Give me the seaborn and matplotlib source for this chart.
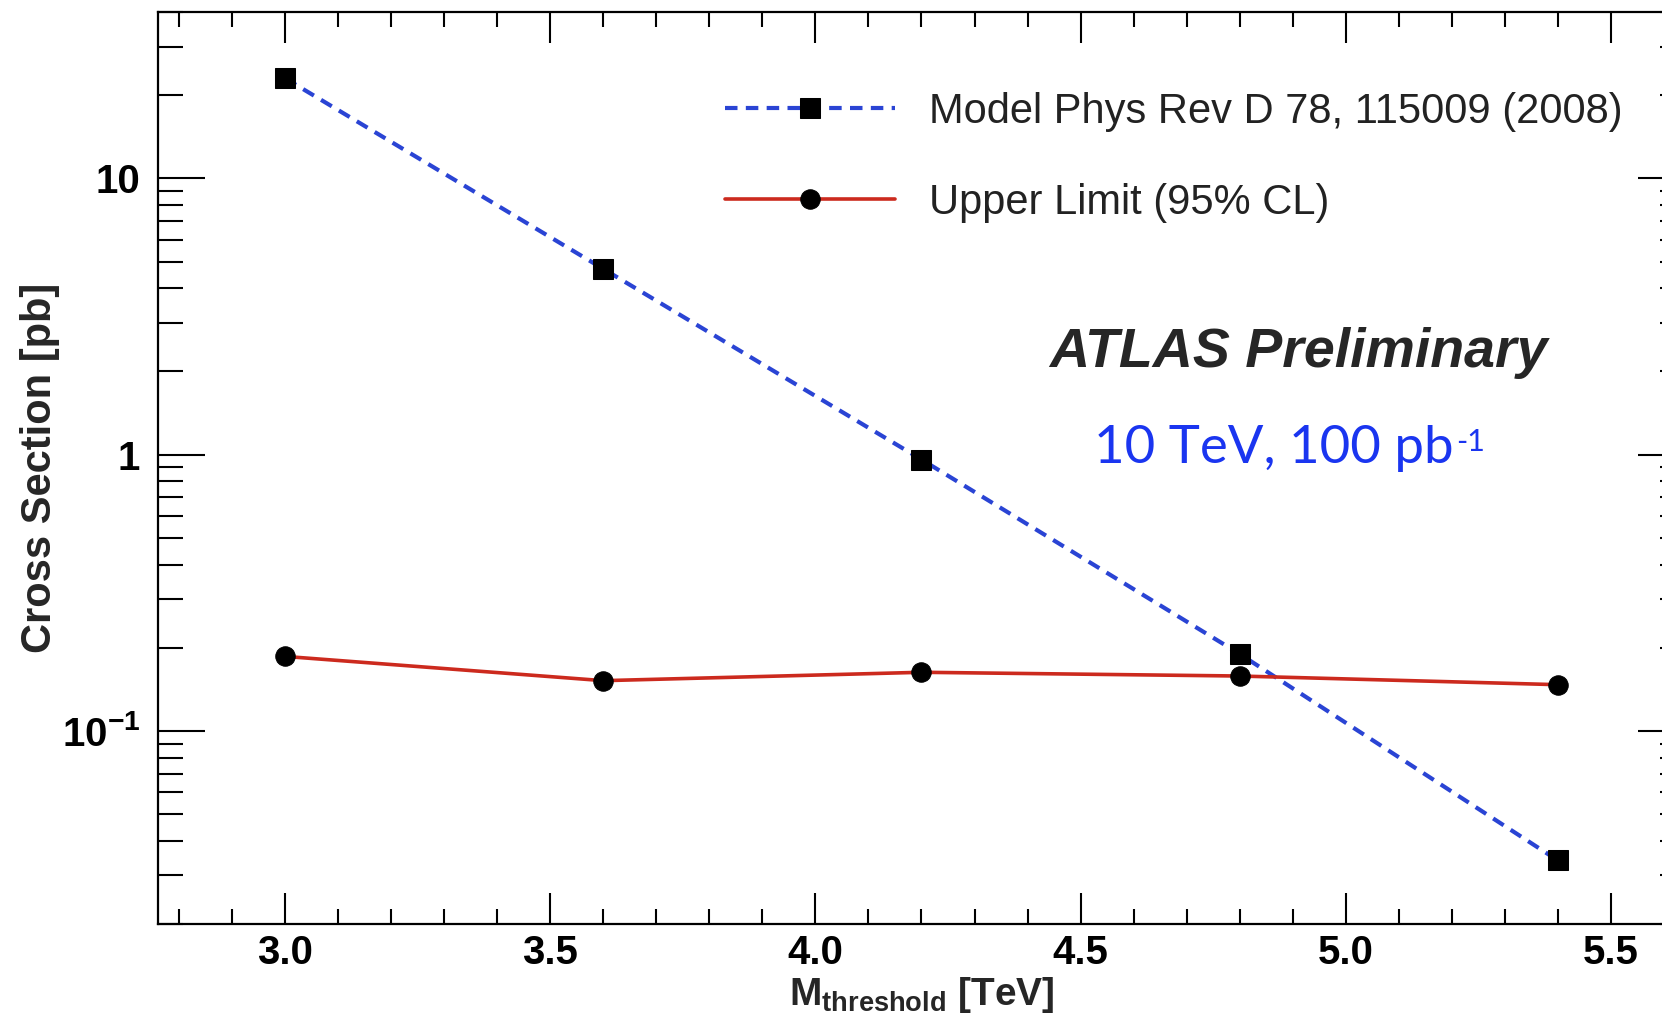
import matplotlib
matplotlib.use("Agg")
import matplotlib.pyplot as plt
import matplotlib.ticker as mticker
import seaborn as sns

# ----------------------------
# Values
# ----------------------------
mass = [3.0, 3.6, 4.2, 4.8, 5.4]
model_xsec = [23.0, 4.7, 0.96, 0.19, 0.034]
limit_xsec = [0.186, 0.152, 0.163, 0.158, 0.147]

model_label = "Model Phys Rev D 78, 115009 (2008)"
limit_label = "Upper Limit (95% CL)"

ytick_vals = [0.1, 1, 10]
ytick_labels = ["10$^{-1}$", "1", "10"]

# ----------------------------
# Style
# ----------------------------
sns.set_style("ticks")
plt.rcParams["font.family"] = ["Liberation Sans", "DejaVu Sans"]
plt.rcParams["mathtext.fontset"] = "custom"
plt.rcParams["mathtext.rm"] = "Liberation Sans:bold"
plt.rcParams["mathtext.it"] = "Liberation Sans:bold"
plt.rcParams["mathtext.bf"] = "Liberation Sans:bold"
plt.rcParams["axes.linewidth"] = 1.6
plt.rcParams["axes.edgecolor"] = "black"

fig = plt.figure(figsize=(16.62, 10.21), dpi=100)
ax = fig.add_axes([0.0951, 0.0950, 0.9187, 0.8932])
ax.set_yscale("log")

# ----------------------------
# Lines
# ----------------------------
sns.lineplot(x=mass, y=model_xsec, ax=ax, color="#2a44d4", linewidth=3.0,
             linestyle=(0, (3, 2)), marker="s", markersize=15,
             markerfacecolor="black", markeredgecolor="black",
             label=model_label)
sns.lineplot(x=mass, y=limit_xsec, ax=ax, color="#cc2a1e", linewidth=2.6,
             marker="o", markersize=14,
             markerfacecolor="black", markeredgecolor="black",
             label=limit_label)

# ----------------------------
# Axes
# ----------------------------
ax.set_xlim(2.76, 5.64)
ax.set_ylim(0.02, 40)

ax.xaxis.set_major_locator(mticker.MultipleLocator(0.5))
ax.xaxis.set_minor_locator(mticker.MultipleLocator(0.1))
ax.xaxis.set_major_formatter(mticker.FormatStrFormatter("%.1f"))
ax.set_yticks(ytick_vals, ytick_labels)
ax.yaxis.set_minor_locator(mticker.LogLocator(base=10, subs=range(2, 10)))
ax.yaxis.set_minor_formatter(mticker.NullFormatter())

ax.tick_params(axis="both", which="both", direction="in", top=True,
               right=True, width=1.5, colors="black")
ax.tick_params(axis="x", which="major", length=22, pad=7, labelsize=29)
ax.tick_params(axis="x", which="minor", length=10.5)
ax.tick_params(axis="y", which="major", length=34, pad=13, labelsize=29)
ax.tick_params(axis="y", which="minor", length=18)
for lab in ax.get_xticklabels() + ax.get_yticklabels():
    lab.set_fontweight("bold")

ax.set_xlabel("M$_{\\rm threshold}$ [TeV]", fontsize=28, fontweight="bold")
ax.xaxis.set_label_coords(0.5, -0.056)
ax.set_ylabel("Cross Section [pb]", fontsize=30, fontweight="bold")
ax.yaxis.set_label_coords(-0.064, 0.5)

ax.legend(loc="upper left", bbox_to_anchor=(0.436, 0.910),
          bbox_transform=fig.transFigure, frameon=False, fontsize=30,
          handlelength=4.1, handletextpad=0.8, labelspacing=1.22,
          borderpad=0, borderaxespad=0, numpoints=1, labelcolor="#222222")

# ----------------------------
# Annotations
# ----------------------------
fig.text(0.631, 0.654, "ATLAS Preliminary", fontsize=40,
         fontweight="bold", fontstyle="italic", va="center")
t = fig.text(0.658, 0.5465, "10 TeV, 100 pb", family="Lato", fontsize=38,
             color="#1a35f0", va="baseline")
ax.annotate("-1", xy=(1, 1), xycoords=t, xytext=(2, -2),
            textcoords="offset points", family="Lato", fontsize=22,
            color="#1a35f0", ha="left", va="top")

fig.savefig("out.png", dpi=100)
